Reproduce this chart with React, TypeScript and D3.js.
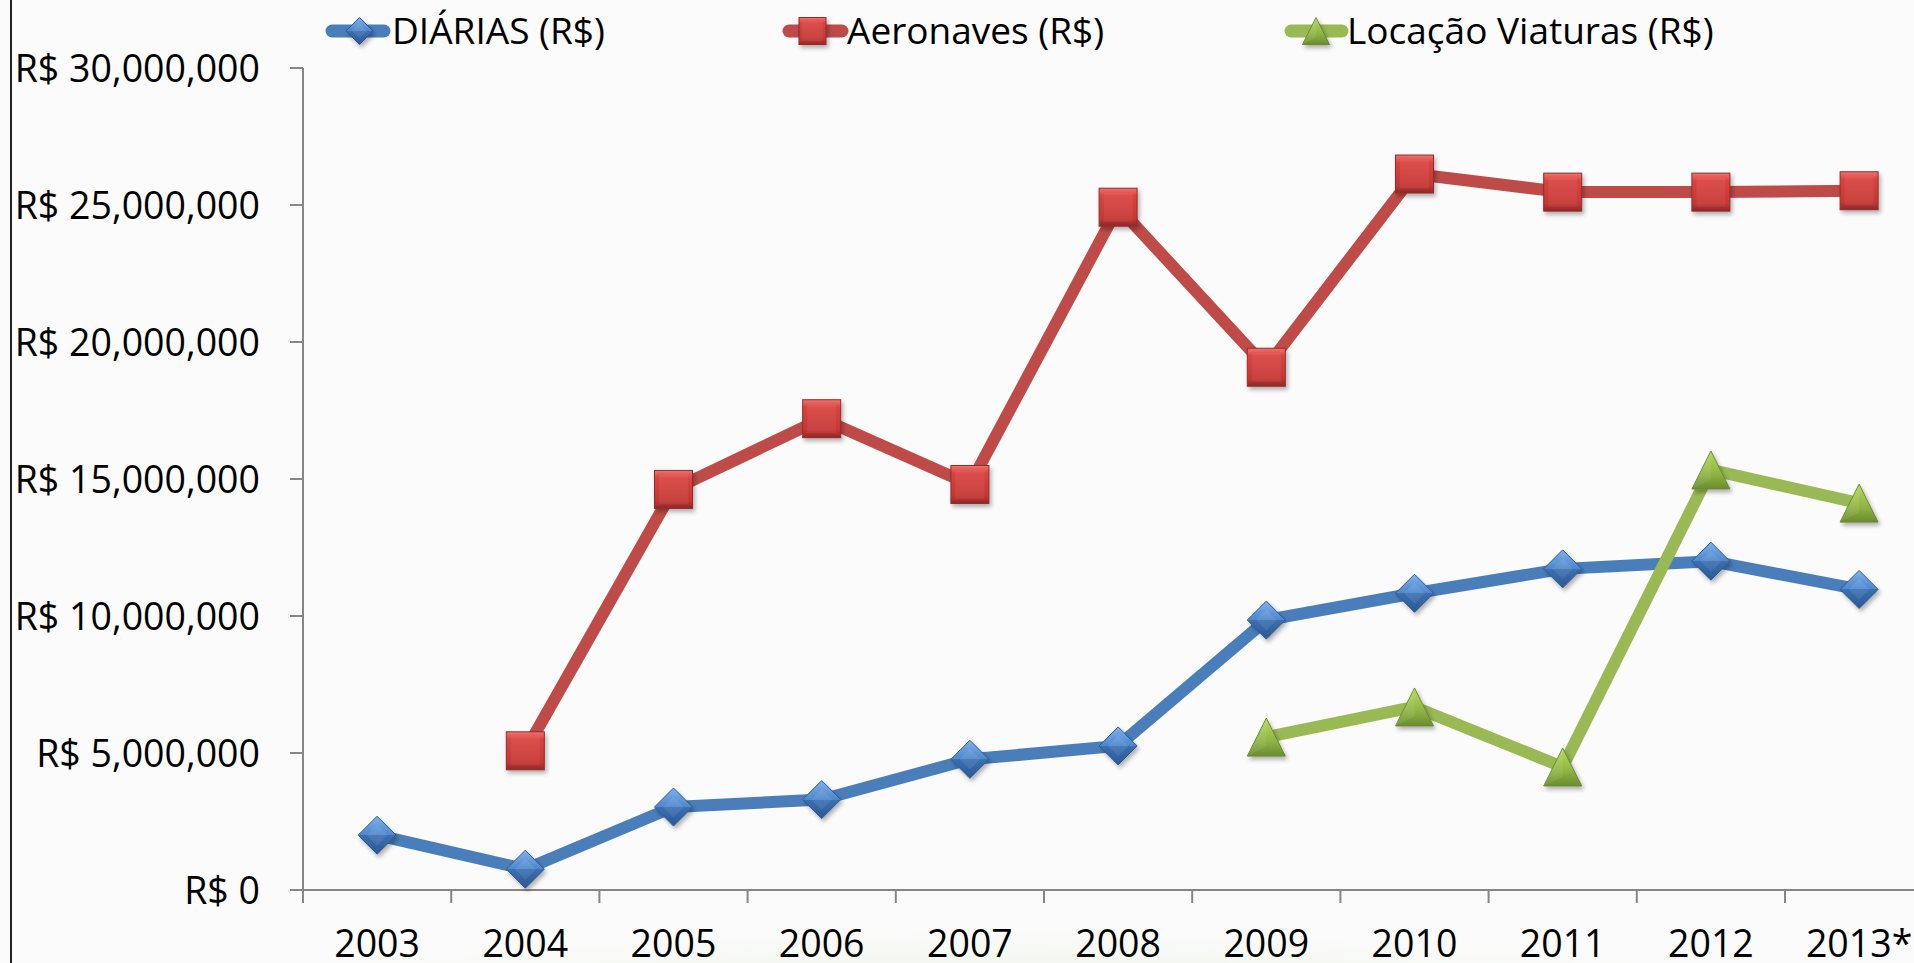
import React from "react";
import * as d3 from "d3";

const categories = ["2003", "2004", "2005", "2006", "2007", "2008", "2009", "2010", "2011", "2012", "2013*"];
const diarias: (number | null)[] = [2.0e6, 0.76e6, 3.03e6, 3.3e6, 4.77e6, 5.26e6, 9.85e6, 10.83e6, 11.72e6, 12.0e6, 10.97e6];
const aeronaves: (number | null)[] = [null, 5.08e6, 14.62e6, 17.2e6, 14.8e6, 24.92e6, 19.08e6, 26.13e6, 25.47e6, 25.47e6, 25.52e6];
const locacao: (number | null)[] = [null, null, null, null, null, null, 5.58e6, 6.68e6, 4.49e6, 15.33e6, 14.12e6];
const yTicks = [0, 5e6, 10e6, 15e6, 20e6, 25e6, 30e6];
const seriesNames = ["DIÁRIAS (R$)", "Aeronaves (R$)", "Locação Viaturas (R$)"];

const W = 1914;
const H = 963;
const FONT = "'Open Sans', 'Liberation Sans', sans-serif";

type Shape = "diamond" | "square" | "triangle";

function Marker({ shape, cx, cy, size, grad, stroke }: { shape: Shape; cx: number; cy: number; size: number; grad: string; stroke: string }) {
  const h = size / 2;
  if (shape === "diamond") {
    return (
      <g filter="url(#shadow)">
        <path d={`M${cx},${cy - h}L${cx + h},${cy}L${cx},${cy + h}L${cx - h},${cy}Z`} fill={`url(#${grad})`} stroke={stroke} strokeWidth={1} />
        <path d={`M${cx - h * 0.55},${cy}L${cx},${cy - h * 0.55}L${cx + h * 0.55},${cy}L${cx},${cy + h * 0.55}Z`} fill="#ffffff" opacity={0.08} />
      </g>
    );
  }
  if (shape === "square") {
    return (
      <g filter="url(#shadow)">
        <rect x={cx - h} y={cy - h} width={size} height={size} fill={`url(#${grad})`} stroke={stroke} strokeWidth={1} />
        <rect x={cx - h + size * 0.12} y={cy - h + size * 0.12} width={size * 0.76} height={size * 0.76} fill="#ffffff" opacity={0.06} />
      </g>
    );
  }
  return (
    <g filter="url(#shadow)">
      <path d={`M${cx},${cy - h}L${cx + h},${cy + h}L${cx - h},${cy + h}Z`} fill={`url(#${grad})`} stroke={stroke} strokeWidth={1} />
      <path d={`M${cx},${cy - h}L${cx},${cy + h * 0.5}L${cx - h},${cy + h}Z`} fill="#ffffff" opacity={0.08} />
    </g>
  );
}

export default function App() {
  const x = d3.scaleBand<string>().domain(categories).range([303, 303 + 11 * 148.2]).paddingInner(0).paddingOuter(0);
  const y = d3.scaleLinear().domain([0, 30e6]).range([890, 68]);
  const cx = (i: number) => (x(categories[i]) as number) + x.bandwidth() / 2;

  const line = d3
    .line<number | null>()
    .defined((d) => d != null)
    .x((_, i) => cx(i))
    .y((d) => y(d as number));

  const series = [
    { name: seriesNames[0], data: diarias, color: "#4a7ebb", shape: "diamond" as Shape, grad: "gBlue", stroke: "#2c5a8f" },
    { name: seriesNames[1], data: aeronaves, color: "#be4b48", shape: "square" as Shape, grad: "gRed", stroke: "#8e2f2c" },
    { name: seriesNames[2], data: locacao, color: "#98b954", shape: "triangle" as Shape, grad: "gGreen", stroke: "#6b8a32" },
  ];

  const legend = [
    { lx0: 332, lx1: 384, mx: 359.5, tx: 392 },
    { lx0: 789, lx1: 842, mx: 812.5, tx: 847 },
    { lx0: 1291, lx1: 1342, mx: 1316, tx: 1347 },
  ];

  const bounds = d3.range(categories.length + 1).map((i) => 303 + i * x.bandwidth());

  return (
    <svg width={W} height={H} style={{ position: "absolute", left: 0, top: 0, display: "block" }} fontFamily={FONT}>
      <defs>
        <filter id="shadow" x="-40%" y="-40%" width="180%" height="180%">
          <feDropShadow dx={2} dy={3} stdDeviation={2} floodColor="#000" floodOpacity={0.3} />
        </filter>
        <linearGradient id="gBlue" x1="0" y1="0" x2="0" y2="1">
          <stop offset="0" stopColor="#7fb1ee" />
          <stop offset="0.5" stopColor="#4d86cb" />
          <stop offset="0.5" stopColor="#3c70b2" />
          <stop offset="1" stopColor="#2b5892" />
        </linearGradient>
        <linearGradient id="gRed" x1="0" y1="0" x2="0" y2="1">
          <stop offset="0" stopColor="#f07370" />
          <stop offset="0.2" stopColor="#d9433f" />
          <stop offset="0.8" stopColor="#c53734" />
          <stop offset="1" stopColor="#8f2826" />
        </linearGradient>
        <linearGradient id="gGreen" x1="0" y1="0" x2="0" y2="1">
          <stop offset="0" stopColor="#b6dc5c" />
          <stop offset="0.6" stopColor="#8fb445" />
          <stop offset="1" stopColor="#6a8c2e" />
        </linearGradient>
        <radialGradient id="swoosh" cx="0.5" cy="0.5" r="0.5">
          <stop offset="0" stopColor="#dcebcd" stopOpacity={0.7} />
          <stop offset="1" stopColor="#eef5e8" stopOpacity={0} />
        </radialGradient>
      </defs>
      <rect x={0} y={0} width={W} height={H} fill="#fbfbfb" />
      <ellipse cx={1000} cy={1000} rx={800} ry={75} fill="url(#swoosh)" />
      <line x1={11} y1={0} x2={11} y2={H} stroke="#222" strokeWidth={2} />

      {/* axes */}
      <line x1={303} y1={68} x2={303} y2={903} stroke="#868686" strokeWidth={2} />
      <line x1={290} y1={890} x2={W} y2={890} stroke="#868686" strokeWidth={2} />
      {yTicks.map((t) => (
        <g key={t}>
          <line x1={290} x2={303} y1={y(t)} y2={y(t)} stroke="#868686" strokeWidth={2} />
          <text x={260} y={y(t) + 13.5} textAnchor="end" fontSize={37.5} fill="#000">
            {"R$ " + d3.format(",")(t)}
          </text>
        </g>
      ))}
      {bounds.map((b, i) => (
        <line key={i} x1={b} x2={b} y1={890} y2={903} stroke="#868686" strokeWidth={2} />
      ))}
      {categories.map((c, i) => (
        <text key={c} x={cx(i)} y={957} textAnchor="middle" fontSize={37.5} fill="#000">
          {c}
        </text>
      ))}

      {/* lines */}
      {series.map((s) => (
        <path key={s.name} d={line(s.data) || ""} fill="none" stroke={s.color} strokeWidth={12} strokeLinejoin="round" />
      ))}
      {/* markers */}
      {series.map((s) =>
        s.data.map((v, i) =>
          v == null ? null : <Marker key={s.name + i} shape={s.shape} cx={cx(i)} cy={y(v)} size={38} grad={s.grad} stroke={s.stroke} />
        )
      )}

      {/* legend */}
      {series.map((s, k) => (
        <g key={"lg" + k}>
          <line x1={legend[k].lx0} x2={legend[k].lx1} y1={31} y2={31} stroke={s.color} strokeWidth={13} strokeLinecap="round" />
          <Marker shape={s.shape} cx={legend[k].mx} cy={31} size={27} grad={s.grad} stroke={s.stroke} />
          <text x={legend[k].tx} y={44} fontSize={37} fill="#000">
            {s.name}
          </text>
        </g>
      ))}
    </svg>
  );
}
